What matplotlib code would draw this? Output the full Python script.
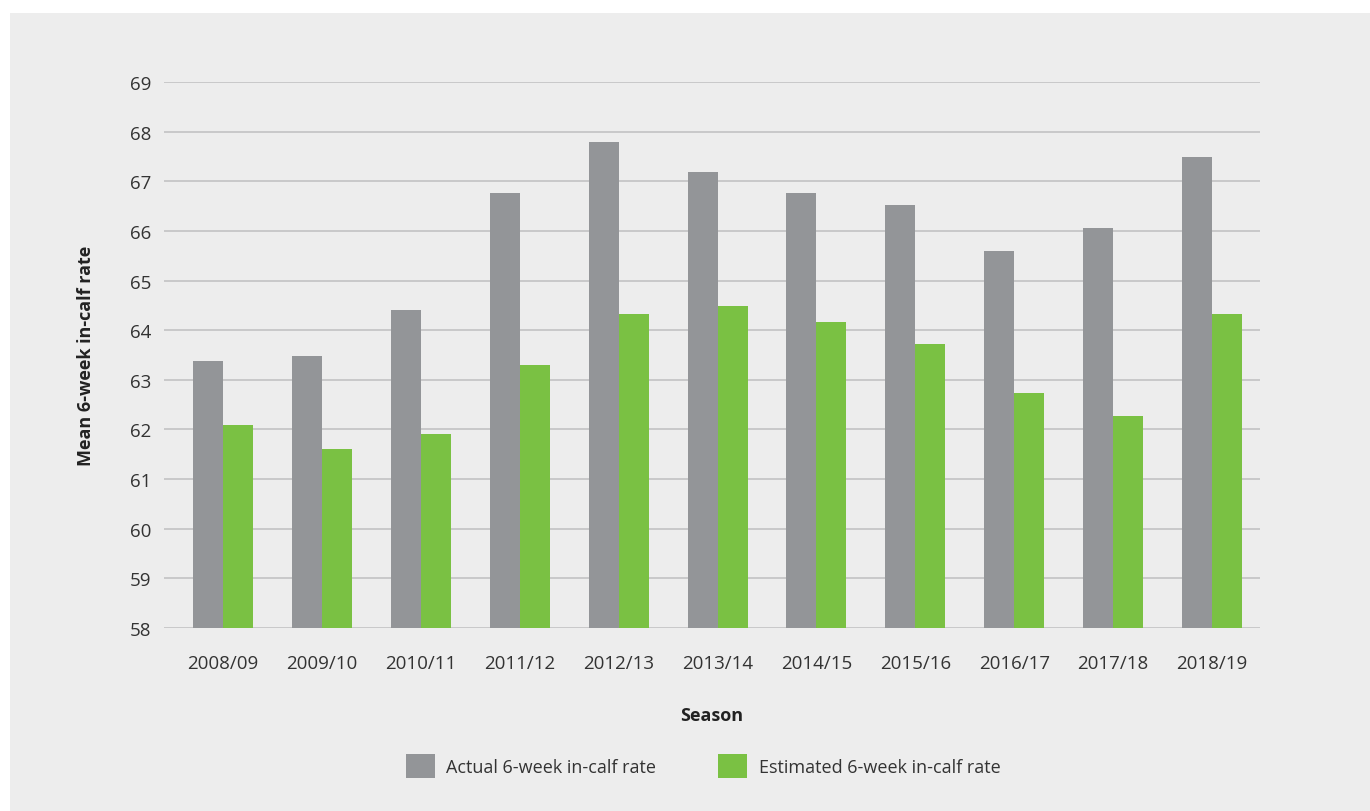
import matplotlib
matplotlib.use("Agg")
import matplotlib.pyplot as plt
import numpy as np
from matplotlib.patches import Rectangle

seasons = ["2008/09", "2009/10", "2010/11", "2011/12", "2012/13", "2013/14",
           "2014/15", "2015/16", "2016/17", "2017/18", "2018/19"]
actual = [63.38, 63.48, 64.41, 66.76, 67.79, 67.19, 66.76, 66.52, 65.59, 66.06, 67.49]
estimated = [62.09, 61.61, 61.91, 63.30, 64.33, 64.49, 64.16, 63.72, 62.73, 62.27, 64.33]
yticks = list(range(58, 70))

plt.rcParams["font.family"] = ["Open Sans", "DejaVu Sans"]

BG = "#ededed"
GRAY = "#939598"
GREEN = "#7ac143"
TXT = "#333333"

W, H = 1370, 812
fig = plt.figure(figsize=(W / 100, H / 100), dpi=100, facecolor="white")
fig.patches.append(Rectangle((10 / W, 0), 1, 1 - 14 / H, transform=fig.transFigure,
                             facecolor=BG, edgecolor="none", zorder=-10))

ax = fig.add_axes([164 / W, 1 - 629 / H, (1260 - 164) / W, (629 - 83) / H])
ax.set_facecolor(BG)
x = np.arange(len(seasons))
bw = 30 / 98.9
ax.bar(x - bw / 2, [a - 58 for a in actual], bottom=58, width=bw, color=GRAY,
       label="Actual 6-week in-calf rate", zorder=3)
ax.bar(x + bw / 2, [e - 58 for e in estimated], bottom=58, width=bw, color=GREEN,
       label="Estimated 6-week in-calf rate", zorder=3)

ax.set_ylim(58, 69)
ax.set_xlim(-0.597, 10.485)
ax.set_yticks(yticks)
ax.set_xticks(x)
ax.set_xticklabels(seasons)
ax.tick_params(axis="both", length=0, labelsize=13.5, colors=TXT)
ax.tick_params(axis="x", pad=19)
ax.tick_params(axis="y", pad=9)
ax.yaxis.grid(True, color="#c8c8ca", linewidth=1.4, zorder=0)
for s in ax.spines.values():
    s.set_visible(False)

ax.set_ylabel("Mean 6-week in-calf rate", fontsize=13, fontweight="bold", color="#222222", labelpad=25)
ax.set_xlabel("Season", fontsize=13, fontweight="bold", color="#222222", labelpad=24)

fig.legend(loc="center", bbox_to_anchor=(703 / W, 1 - 767 / H), ncol=2, frameon=False,
           fontsize=13, handlelength=1.6, handleheight=1.6, handletextpad=0.66,
           columnspacing=3.4, labelcolor=TXT)

fig.savefig("out.png", dpi=100, facecolor=fig.get_facecolor())
